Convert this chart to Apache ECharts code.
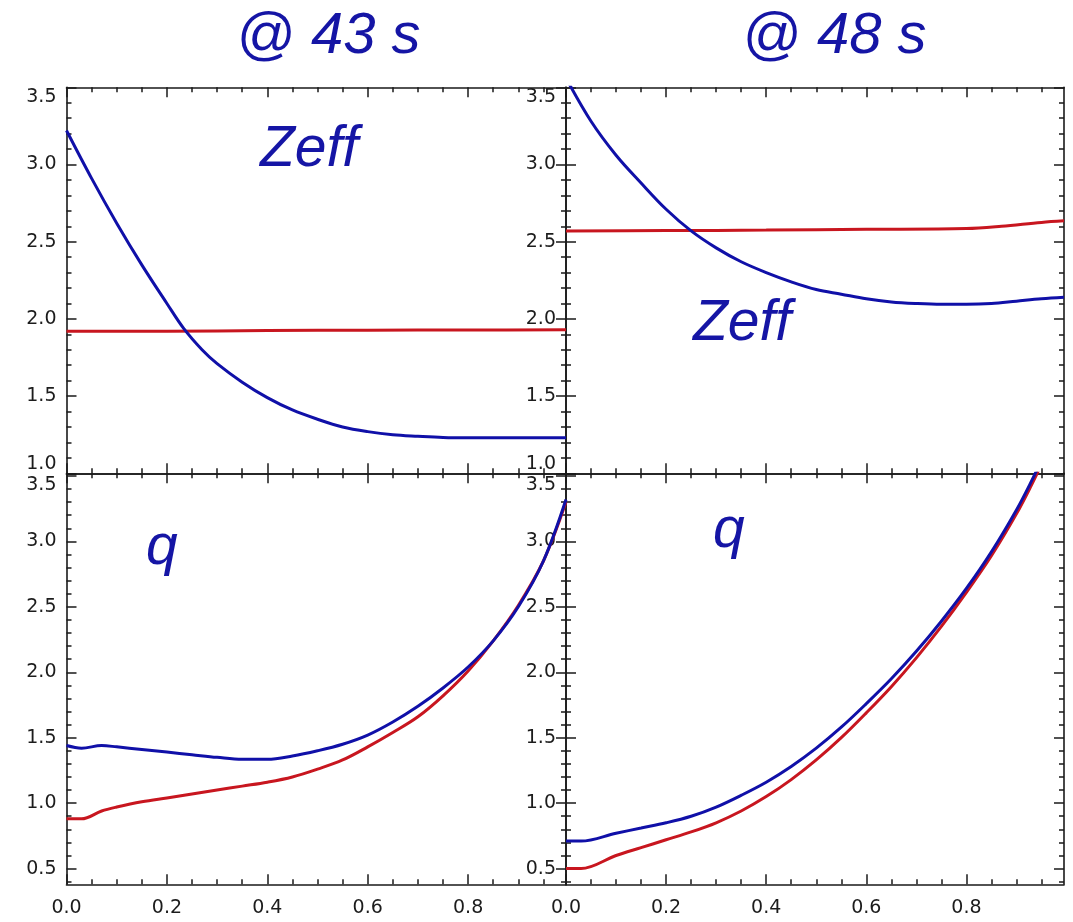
<!DOCTYPE html>
<html>
<head>
<meta charset="utf-8">
<script src="https://cdn.jsdelivr.net/npm/echarts@6/dist/echarts.min.js"></script>
<style>
  html, body { margin: 0; padding: 0; background: #ffffff; }
  #chart { width: 1073px; height: 922px; }
</style>
</head>
<body>
<div id="chart"></div>
<script>
// ---- profile data (normalised radius vs value) ----
// @ 43 s, Zeff
const zeff43X    = [0, 0.05, 0.10, 0.15, 0.20, 0.233, 0.27, 0.30, 0.35, 0.40, 0.45, 0.50, 0.55, 0.60, 0.65, 0.70, 0.75, 0.80, 0.90, 0.995];
const zeff43Blue = [3.22, 2.91, 2.62, 2.35, 2.10, 1.94, 1.80, 1.71, 1.59, 1.49, 1.41, 1.35, 1.30, 1.27, 1.25, 1.24, 1.232, 1.23, 1.23, 1.23];
const zeff43RedX = [0, 0.2, 0.4, 0.6, 0.8, 0.995];
const zeff43Red  = [1.92, 1.92, 1.925, 1.927, 1.928, 1.93];

// @ 48 s, Zeff
const zeff48X    = [0, 0.05, 0.10, 0.15, 0.20, 0.25, 0.30, 0.35, 0.40, 0.45, 0.50, 0.55, 0.60, 0.65, 0.70, 0.75, 0.80, 0.85, 0.90, 0.95, 0.995];
const zeff48Blue = [3.56, 3.28, 3.06, 2.88, 2.71, 2.57, 2.46, 2.37, 2.30, 2.24, 2.19, 2.16, 2.13, 2.11, 2.10, 2.095, 2.095, 2.10, 2.115, 2.13, 2.14];
const zeff48RedX = [0, 0.2, 0.4, 0.6, 0.8, 0.87, 0.95, 0.995];
const zeff48Red  = [2.57, 2.572, 2.575, 2.58, 2.585, 2.60, 2.625, 2.635];

// @ 43 s, q
const q43X    = [0, 0.03, 0.07, 0.10, 0.15, 0.20, 0.25, 0.30, 0.35, 0.40, 0.45, 0.50, 0.55, 0.60, 0.65, 0.70, 0.75, 0.80, 0.85, 0.90, 0.95, 0.995];
const q43Blue = [1.44, 1.42, 1.44, 1.43, 1.41, 1.39, 1.37, 1.35, 1.335, 1.335, 1.36, 1.40, 1.45, 1.52, 1.62, 1.74, 1.88, 2.04, 2.24, 2.50, 2.85, 3.32];
const q43Red  = [0.88, 0.88, 0.94, 0.97, 1.01, 1.04, 1.07, 1.10, 1.13, 1.16, 1.20, 1.26, 1.33, 1.43, 1.54, 1.66, 1.82, 2.01, 2.24, 2.51, 2.85, 3.30];

// @ 48 s, q
const q48X    = [0, 0.03, 0.10, 0.15, 0.20, 0.25, 0.30, 0.35, 0.40, 0.45, 0.50, 0.55, 0.60, 0.65, 0.70, 0.75, 0.80, 0.85, 0.90, 0.93, 0.95];
const q48Blue = [0.71, 0.71, 0.77, 0.81, 0.85, 0.90, 0.97, 1.06, 1.16, 1.28, 1.42, 1.58, 1.76, 1.95, 2.16, 2.39, 2.64, 2.92, 3.24, 3.46, 3.62];
const q48Red  = [0.50, 0.50, 0.60, 0.66, 0.72, 0.78, 0.85, 0.94, 1.05, 1.18, 1.33, 1.50, 1.69, 1.89, 2.11, 2.35, 2.61, 2.89, 3.21, 3.43, 3.59];

// ---- axis ranges and tick values ----
const xRange      = [0, 0.995];
const xMajorTicks = [0, 0.2, 0.4, 0.6, 0.8];
const xMinorTicks = [0.05, 0.1, 0.15, 0.25, 0.3, 0.35, 0.45, 0.5, 0.55, 0.65, 0.7, 0.75, 0.85, 0.9, 0.95];
const zeffRange      = [1.0, 3.5];
const zeffMajorTicks = [1.0, 1.5, 2.0, 2.5, 3.0, 3.5];
const zeffMinorTicks = [1.1, 1.2, 1.3, 1.4, 1.6, 1.7, 1.8, 1.9, 2.1, 2.2, 2.3, 2.4, 2.6, 2.7, 2.8, 2.9, 3.1, 3.2, 3.3, 3.4];
const qRange      = [0.38, 3.52];
const qMajorTicks = [0.5, 1.0, 1.5, 2.0, 2.5, 3.0, 3.5];
const qMinorTicks = [0.4, 0.6, 0.7, 0.8, 0.9, 1.1, 1.2, 1.3, 1.4, 1.6, 1.7, 1.8, 1.9, 2.1, 2.2, 2.3, 2.4, 2.6, 2.7, 2.8, 2.9, 3.1, 3.2, 3.3, 3.4];

const panelTitles = ['@ 43 s', '@ 48 s'];
const panelLabels = ['Zeff', 'Zeff', 'q', 'q'];

const BLUE = '#1010a8';
const RED = '#c8161f';
const INK = '#1a1a1a';
const TEXT_BLUE = '#1515a5';
const LABEL_FONT = { fontFamily: 'DejaVu Sans', fontSize: 19, color: '#1c1c1c' };

// panel boxes in pixels: top-left, top-right, bottom-left, bottom-right
const grids = [
  { left: 66.5, top: 87.3, width: 499.5, height: 386 },
  { left: 566,  top: 87.3, width: 498,   height: 386 },
  { left: 66.5, top: 473.3, width: 499.5, height: 411 },
  { left: 566,  top: 473.3, width: 498,   height: 411 }
];

function pairs(xs, ys) { return xs.map((x, i) => [x, ys[i]]); }

// builds the four overlaid axes of one direction for a panel:
// major + minor ticks on the labelled side, major + minor ticks on the opposite side
function axisSet(kind, g, range, major, minor, labelOpts) {
  const sides = kind === 'x' ? ['bottom', 'top'] : ['left', 'right'];
  const out = [];
  sides.forEach((pos, si) => {
    [[major, 10], [minor, 5]].forEach(([vals, len], mi) => {
      const showLabel = si === 0 && mi === 0 && !!labelOpts;
      out.push({
        type: 'value', gridIndex: g, position: pos, min: range[0], max: range[1],
        splitLine: { show: false },
        axisLine: { show: mi === 0, onZero: false, lineStyle: { color: INK, width: 1.6 } },
        axisTick: { show: true, inside: true, length: len, customValues: vals, lineStyle: { color: INK, width: 1.5 } },
        axisLabel: showLabel ? Object.assign({
          show: true, customValues: major, formatter: v => v.toFixed(1)
        }, LABEL_FONT, labelOpts) : { show: false }
      });
    });
  });
  return out;
}

const xAxes = [], yAxes = [];
grids.forEach((gr, g) => {
  const isBottom = g >= 2;
  xAxes.push(...axisSet('x', g, xRange, xMajorTicks, xMinorTicks, isBottom ? { margin: 14 } : null));
  const yr = isBottom ? qRange : zeffRange;
  const ymaj = isBottom ? qMajorTicks : zeffMajorTicks;
  const ymin = isBottom ? qMinorTicks : zeffMinorTicks;
  yAxes.push(...axisSet('y', g, yr, ymaj, ymin, {
    margin: 10, verticalAlignMaxLabel: 'top', verticalAlignMinLabel: isBottom ? 'middle' : 'bottom'
  }));
});

function line(g, data, color) {
  return {
    type: 'line', xAxisIndex: 4 * g, yAxisIndex: 4 * g, data: data,
    showSymbol: false, smooth: 0.35, clip: true,
    lineStyle: { color: color, width: 3 }, silent: true, z: 3
  };
}

const series = [
  line(0, pairs(zeff43RedX, zeff43Red), RED),
  line(0, pairs(zeff43X, zeff43Blue), BLUE),
  line(1, pairs(zeff48RedX, zeff48Red), RED),
  line(1, pairs(zeff48X, zeff48Blue), BLUE),
  line(2, pairs(q43X, q43Red), RED),
  line(2, pairs(q43X, q43Blue), BLUE),
  line(3, pairs(q48X, q48Red), RED),
  line(3, pairs(q48X, q48Blue), BLUE)
];

const italicBlue = (size) => ({ fontFamily: 'Liberation Sans', fontStyle: 'italic', fontSize: size, fill: TEXT_BLUE });

const graphic = [
  { type: 'text', left: 236, top: 8, style: Object.assign({ text: panelTitles[0] }, italicBlue(58)) },
  { type: 'text', left: 742, top: 8, style: Object.assign({ text: panelTitles[1] }, italicBlue(58)) },
  { type: 'text', left: 260, top: 122, style: Object.assign({ text: panelLabels[0] }, italicBlue(57)) },
  { type: 'text', left: 693, top: 296, style: Object.assign({ text: panelLabels[1] }, italicBlue(57)) },
  { type: 'text', left: 146, top: 520, style: Object.assign({ text: panelLabels[2] }, italicBlue(57)) },
  { type: 'text', left: 713, top: 503, style: Object.assign({ text: panelLabels[3] }, italicBlue(57)) }
];

const chart = echarts.init(document.getElementById('chart'), null, { renderer: 'canvas' });
chart.setOption({
  animation: false,
  backgroundColor: '#ffffff',
  grid: grids.map(g => Object.assign({ containLabel: false }, g)),
  xAxis: xAxes,
  yAxis: yAxes,
  series: series,
  graphic: graphic
});
</script>
</body>
</html>
